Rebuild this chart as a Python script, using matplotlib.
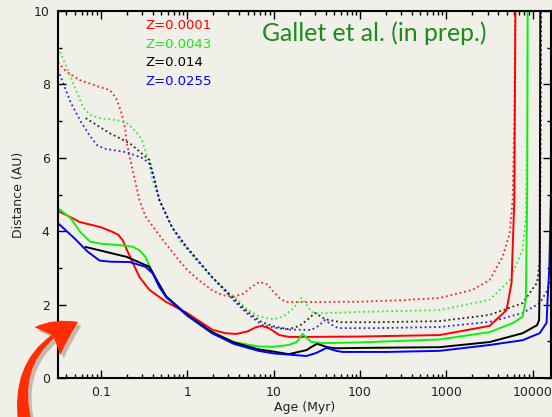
import numpy as np
import matplotlib
matplotlib.use("Agg")
import matplotlib.pyplot as plt
from matplotlib.patches import FancyArrowPatch
from matplotlib.ticker import FixedLocator, FixedFormatter, LogLocator, NullFormatter
import matplotlib.patheffects as pe

# --- data (age in Myr, distance in AU) ---
# solid lines
age_red = [0.032, 0.045, 0.057, 0.1, 0.137, 0.16, 0.18, 0.2, 0.233, 0.281, 0.366, 0.574, 1.0,
           1.97, 2.8, 3.7, 5.0, 6.2, 7.3, 8.8, 11.7, 15, 25, 100, 832, 3160, 4960, 5670, 5830, 6100, 6300]
dist_red = [4.55, 4.38, 4.25, 4.11, 3.98, 3.9, 3.75, 3.5, 3.16, 2.75, 2.4, 2.07, 1.77,
            1.31, 1.22, 1.2, 1.27, 1.38, 1.42, 1.36, 1.17, 1.12, 1.12, 1.13, 1.17, 1.42, 1.85, 2.6, 3.5, 4.85, 10.5]

age_green = [0.032, 0.045, 0.057, 0.075, 0.1, 0.166, 0.233, 0.281, 0.33, 0.366, 0.477, 0.574, 1.0,
             1.94, 3.47, 6.7, 10, 15, 18.5, 21.6, 24, 27.5, 38.6, 100, 832, 3160, 5900, 7600, 8300, 8600, 8700]
dist_green = [4.63, 4.35, 4.0, 3.72, 3.66, 3.62, 3.58, 3.48, 3.3, 3.05, 2.48, 2.2, 1.72,
              1.25, 0.98, 0.86, 0.85, 0.9, 0.98, 1.2, 1.1, 0.98, 0.95, 0.97, 1.05, 1.25, 1.5, 1.67, 2.13, 5.0, 10.5]

age_black = [0.067, 0.2, 0.366, 0.45, 0.574, 1.0, 1.94, 3.47, 6.7, 10, 15, 24, 28, 32, 42, 53, 100,
             832, 3160, 7600, 11200, 11800, 12000, 12200]
dist_black = [3.57, 3.3, 3.03, 2.65, 2.22, 1.72, 1.25, 0.97, 0.78, 0.72, 0.65, 0.76, 0.86, 0.93, 0.84, 0.81, 0.82,
              0.84, 0.98, 1.22, 1.44, 1.58, 2.5, 10.5]

age_blue = [0.032, 0.05, 0.07, 0.097, 0.127, 0.216, 0.33, 0.4, 0.477, 0.574, 1.0, 1.94, 3.47, 6.7, 10, 24,
            31, 41, 53, 63, 200, 832, 3160, 7600, 11970, 14400, 14800, 15500, 16200]
dist_blue = [4.22, 3.8, 3.45, 3.2, 3.17, 3.16, 3.03, 2.85, 2.48, 2.2, 1.7, 1.22, 0.93, 0.74, 0.67, 0.6,
             0.68, 0.82, 0.74, 0.71, 0.71, 0.74, 0.9, 1.03, 1.22, 1.5, 2.13, 3.0, 5.0]

# dotted lines
age_red_d = [0.032, 0.04, 0.057, 0.097, 0.127, 0.15, 0.17, 0.19, 0.2, 0.23, 0.28, 0.33, 0.44, 0.57, 0.81, 1.0,
             1.39, 1.97, 2.6, 3.5, 4.5, 5.5, 6.9, 8.5, 10, 11.7, 14, 30, 100, 300, 832, 2000, 3160, 4460, 5400,
             5830, 6100, 6250]
dist_red_d = [8.6, 8.35, 8.12, 7.93, 7.85, 7.63, 7.3, 6.84, 6.4, 5.75, 4.85, 4.4, 4.0, 3.65, 3.2, 2.95,
              2.65, 2.38, 2.25, 2.22, 2.3, 2.48, 2.62, 2.55, 2.35, 2.18, 2.07, 2.07, 2.08, 2.12, 2.18, 2.4, 2.67,
              3.3, 3.95, 4.85, 7.0, 10.5]

age_green_d = [0.032, 0.0386, 0.05, 0.062, 0.075, 0.097, 0.153, 0.2, 0.26, 0.30, 0.347, 0.396, 0.477, 0.67,
               0.81, 1.0, 1.4, 1.94, 2.8, 3.96, 4.77, 6.7, 10, 13, 17, 21, 24, 27.4, 32, 38.6, 100, 832, 3160,
               5400, 7600, 8300, 8600, 8700]
dist_green_d = [9.0, 8.58, 7.93, 7.39, 7.17, 7.08, 7.03, 6.95, 6.7, 6.48, 6.02, 5.4, 4.85, 4.11,
                3.75, 3.5, 3.1, 2.75, 2.4, 2.1, 1.9, 1.68, 1.6, 1.68, 1.9, 2.18, 2.0, 1.8, 1.77, 1.77, 1.8, 1.85,
                2.13, 2.67, 3.49, 4.4, 7.0, 10.5]

age_black_d = [0.067, 0.127, 0.216, 0.366, 0.42, 0.477, 0.67, 1.0, 1.94, 3.5, 5, 7.3, 10.3, 14.9, 20, 25, 30,
               35, 39.5, 60, 160, 832, 3160, 7600, 11200, 12000, 12300, 12500]
dist_black_d = [7.08, 6.67, 6.4, 5.94, 5.4, 4.85, 4.1, 3.55, 2.75, 2.15, 1.8, 1.52, 1.4, 1.33, 1.42, 1.6, 1.77,
                1.68, 1.6, 1.52, 1.52, 1.55, 1.72, 2.04, 2.6, 3.2, 6.0, 10.5]

age_blue_d = [0.032, 0.045, 0.06, 0.075, 0.09, 0.11, 0.2, 0.3, 0.366, 0.42, 0.477, 0.67, 1.0, 1.94, 3.5, 5,
              7.3, 10.3, 15, 27.4, 33, 39.5, 47, 56, 160, 832, 3160, 7600, 12000, 14800, 16500]
dist_blue_d = [8.4, 7.5, 6.95, 6.6, 6.35, 6.25, 6.15, 6.0, 5.85, 5.4, 4.85, 4.1, 3.55, 2.75, 2.1, 1.75,
               1.45, 1.37, 1.32, 1.31, 1.42, 1.58, 1.45, 1.36, 1.36, 1.39, 1.53, 1.77, 2.04, 2.4, 2.8]

labels = ["Z=0.0001", "Z=0.0043", "Z=0.014", "Z=0.0255"]
colors = ["#ff0000", "#11ee11", "#000000", "#0000ff"]

xticks = [0.1, 1, 10, 100, 1000, 10000]
xticklabels = ["0.1", "1", "10", "100", "1000", "10000"]
yticks = [0, 2, 4, 6, 8, 10]

bg = "#f1f0e8"

fig = plt.figure(figsize=(5.52, 4.17), dpi=100, facecolor=bg)
ax = fig.add_axes([0.105, 0.0935, 0.8923, 0.8801], facecolor=bg)

solid = [(age_red, dist_red), (age_green, dist_green), (age_black, dist_black), (age_blue, dist_blue)]
dotted = [(age_red_d, dist_red_d), (age_green_d, dist_green_d), (age_black_d, dist_black_d),
          (age_blue_d, dist_blue_d)]

for (a, d), c in zip(dotted, colors):
    ax.plot(a, d, color=c, lw=1.3, ls=(0, (1, 1.6)), alpha=0.85)
for (a, d), c in zip(solid, colors):
    ax.plot(a, d, color=c, lw=1.4)

ax.set_xscale("log")
ax.set_xlim(0.032, 16000)
ax.set_ylim(0, 10)

ax.xaxis.set_major_locator(FixedLocator(xticks))
ax.xaxis.set_major_formatter(FixedFormatter(xticklabels))
ax.xaxis.set_minor_locator(LogLocator(base=10, subs=np.arange(2, 10)))
ax.xaxis.set_minor_formatter(NullFormatter())
ax.set_yticks(yticks)
ax.set_yticks([1, 3, 5, 7, 9], minor=True)

ax.tick_params(which="both", direction="in", top=True, right=True, width=1.0, colors="black",
               labelsize=9, labelcolor="#222222")
ax.tick_params(which="major", length=6, pad=6)
ax.tick_params(which="minor", length=3)
for s in ax.spines.values():
    s.set_linewidth(1.5)

ax.set_xlabel("Age (Myr)", fontsize=9, labelpad=1, color="#222222")
ax.set_ylabel("Distance (AU)", fontsize=9, labelpad=6, color="#222222")

for i, (lab, c) in enumerate(zip(labels, colors)):
    ax.text(0.177, 0.978 - i * 0.0507, lab, color=c, fontsize=9.5, transform=ax.transAxes,
            ha="left", va="top")

ax.text(0.415, 0.918, "Gallet et al. (in prep.)", color="#1a8c1a", fontsize=17.8,
        family=["Lato", "DejaVu Sans"], transform=ax.transAxes, ha="left", va="baseline")

# decorative curved arrow pointing at the plot
W, H = 552.0, 417.0
arrow = FancyArrowPatch((25 / W, -6 / H), (78 / W, 95 / H), transform=fig.transFigure,
                        connectionstyle="arc3,rad=-0.4",
                        arrowstyle="fancy,head_length=1.0,head_width=1.05,tail_width=0.38",
                        mutation_scale=26, color="#ff2d00", lw=0, clip_on=False,
                        shrinkA=0, shrinkB=0)
arrow.set_path_effects([pe.SimplePatchShadow(offset=(2.5, -2.5), alpha=0.25), pe.Normal()])
fig.add_artist(arrow)

fig.savefig("out.png", dpi=100, facecolor=bg)
